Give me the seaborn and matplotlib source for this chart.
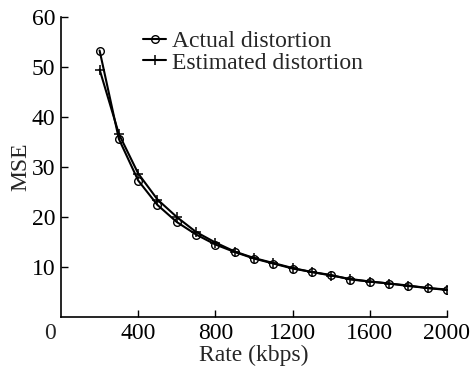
import matplotlib

matplotlib.use("Agg")
import matplotlib.pyplot as plt
import pandas as pd
import seaborn as sns

# Rate points (kbps) and the two distortion curves
rate = [200, 300, 400, 500, 600, 700, 800, 900, 1000, 1100,
        1200, 1300, 1400, 1500, 1600, 1700, 1800, 1900, 2000]
actual_mse = [53.3, 35.6, 27.3, 22.4, 19.0, 16.5, 14.5, 13.0, 11.7, 10.7,
              9.7, 9.0, 8.4, 7.5, 7.1, 6.7, 6.3, 5.8, 5.4]
estimated_mse = [49.5, 36.6, 28.7, 23.5, 20.0, 17.0, 14.9, 13.1, 11.8, 10.8,
                 9.8, 9.0, 8.3, 7.6, 7.1, 6.7, 6.2, 5.8, 5.5]
x_ticks = [400, 800, 1200, 1600, 2000]
y_ticks = [10, 20, 30, 40, 50, 60]

df = pd.concat(
    [
        pd.DataFrame({"rate": rate, "mse": actual_mse, "series": "Actual distortion"}),
        pd.DataFrame({"rate": rate, "mse": estimated_mse, "series": "Estimated distortion"}),
    ],
    ignore_index=True,
)

sns.set_theme(style="ticks")
plt.rcParams["font.family"] = ["Liberation Serif", "DejaVu Serif"]

FS = 17

fig = plt.figure(figsize=(4.71, 3.70), dpi=100)
ax = fig.add_axes([0.1295, 0.1432, 0.8195, 0.8108])

sns.lineplot(
    data=df[df["series"] == "Actual distortion"],
    x="rate", y="mse", color="black", linewidth=1.5,
    marker="o", markersize=5.5, markerfacecolor="none",
    markeredgecolor="black", markeredgewidth=1.0,
    label="Actual distortion", ax=ax,
)
sns.lineplot(
    data=df[df["series"] == "Estimated distortion"],
    x="rate", y="mse", color="black", linewidth=1.5,
    marker="+", markersize=7, markeredgecolor="black", markeredgewidth=1.1,
    label="Estimated distortion", ax=ax,
)

ax.set_xlim(0, 2000)
ax.set_ylim(0, 60)
ax.set_xticks(x_ticks)
ax.set_yticks(y_ticks)
ax.tick_params(direction="in", length=5, width=1.0, labelsize=FS,
               colors="black", pad=4)
for side in ["top", "right"]:
    ax.spines[side].set_visible(False)
for side in ["left", "bottom"]:
    ax.spines[side].set_linewidth(1.2)
    ax.spines[side].set_color("black")

# shared origin label
ax.annotate("0", xy=(0, 0), xycoords="axes fraction", xytext=(-8, -4),
            textcoords="offset points", ha="center", va="top", fontsize=FS)

ax.set_xlabel("Rate (kbps)", fontsize=FS, labelpad=1)
ax.set_ylabel("MSE", fontsize=FS, labelpad=0)

ax.legend(
    loc="upper left", bbox_to_anchor=(0.212, 0.955), frameon=False,
    fontsize=FS, handlelength=1.0, handletextpad=0.25,
    labelspacing=0.0, borderpad=0, borderaxespad=0,
)

fig.savefig("out.png", dpi=100)
